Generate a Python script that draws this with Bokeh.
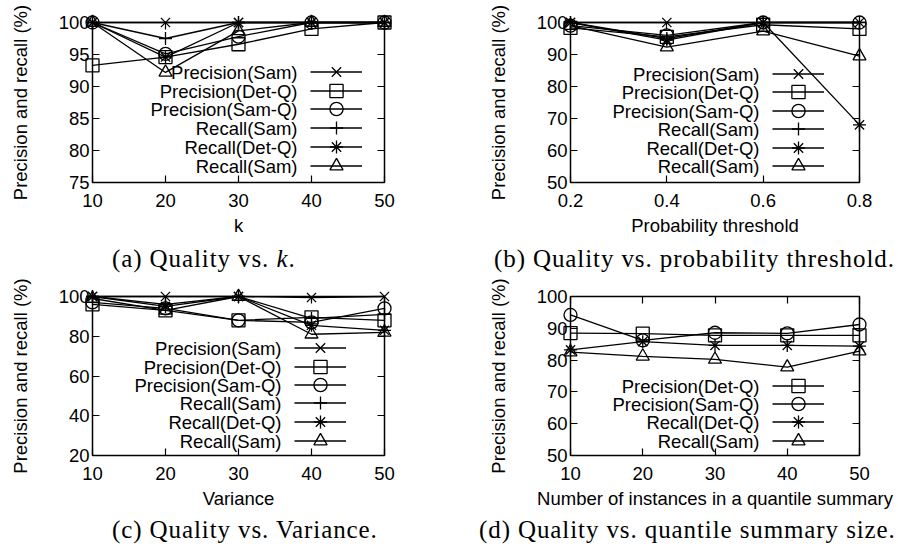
from bokeh.plotting import figure
from bokeh.models import (LinearAxis, FixedTicker, Legend, LegendItem, Label,
                          Range1d, CustomJSTickFormatter, Div)
from bokeh.layouts import column, row
from bokeh.core.properties import value
from bokeh.embed import file_html
from bokeh.resources import INLINE

# ---------------- data ----------------
# (a) Quality vs. k
a_x = [10, 20, 30, 40, 50]
a_prec_sam = [100, 100, 100, 100, 100]
a_prec_detq = [93.3, 94.6, 96.6, 99.0, 100]
a_prec_samq = [100, 95.1, 97.8, 100, 100]
a_rec_sam = [100, 97.5, 100, 100, 100]
a_rec_detq = [100, 94.6, 100, 100, 100]
a_rec_sam2 = [100, 92.2, 98.7, 100, 100]

# (b) Quality vs. probability threshold
b_x = [0.2, 0.4, 0.6, 0.8]
b_prec_sam = [100, 100, 100, 100]
b_prec_detq = [98.3, 95.5, 99.3, 98.0]
b_prec_samq = [99.0, 96.0, 100, 100]
b_rec_sam = [100, 95.0, 100, 100]
b_rec_detq = [100, 94.5, 100, 68.0]
b_rec_sam2 = [99.0, 92.3, 97.3, 89.5]

# (c) Quality vs. Variance
c_x = [10, 20, 30, 40, 50]
c_prec_sam = [100, 100, 100, 99.5, 100]
c_prec_detq = [96, 93, 88, 89.5, 88]
c_prec_samq = [97, 94, 88, 87, 94]
c_rec_sam = [100, 96, 100, 89, 91]
c_rec_detq = [100, 95, 100, 85.5, 83]
c_rec_sam2 = [99, 93, 100, 81, 82]

# (d) Quality vs. quantile summary size
d_x = [10, 20, 30, 40, 50]
d_prec_detq = [88.5, 88.3, 87.8, 87.8, 87.8]
d_prec_samq = [94.2, 86.2, 88.6, 88.4, 91.2]
d_rec_detq = [83.2, 85.8, 84.6, 84.6, 84.4]
d_rec_sam = [82.5, 81.2, 80.2, 77.8, 82.8]

names6 = ["Precision(Sam)", "Precision(Det-Q)", "Precision(Sam-Q)",
          "Recall(Sam)", "Recall(Det-Q)", "Recall(Sam)"]
markers6 = ["x", "square", "circle", "cross", "asterisk", "triangle"]
names4 = ["Precision(Det-Q)", "Precision(Sam-Q)", "Recall(Det-Q)", "Recall(Sam)"]
markers4 = ["square", "circle", "asterisk", "triangle"]

a_ticks_x = [10, 20, 30, 40, 50]
a_ticks_y = [75, 80, 85, 90, 95, 100]
b_ticks_x = [0.2, 0.4, 0.6, 0.8]
b_ticks_y = [50, 60, 70, 80, 90, 100]
c_ticks_x = [10, 20, 30, 40, 50]
c_ticks_y = [20, 40, 60, 80, 100]
d_ticks_x = [10, 20, 30, 40, 50]
d_ticks_y = [50, 60, 70, 80, 90, 100]

cap_a = "(a) Quality vs. <i>k</i>."
cap_b = "(b) Quality vs. probability threshold."
cap_c = "(c) Quality vs. Variance."
cap_d = "(d) Quality vs. quantile summary size."

SANS = "Liberation Sans"
SERIF = "Liberation Serif"
FS = "18.5px"
YLABEL = "Precision and recall (%)"


def style_axis(ax, labels=True, standoff=3):
    ax.major_tick_in = 7
    ax.major_tick_out = 0
    ax.minor_tick_line_color = None
    ax.axis_line_color = None
    ax.major_tick_line_color = "black"
    ax.major_tick_line_width = 1.2
    ax.major_label_text_font = SANS
    ax.major_label_text_font_size = FS
    ax.major_label_text_color = "black"
    ax.major_label_standoff = standoff
    ax.axis_label_text_font = SANS
    ax.axis_label_text_font_size = FS
    ax.axis_label_text_font_style = "normal"
    ax.axis_label_text_color = "black"
    if not labels:
        ax.formatter = CustomJSTickFormatter(code="return ''")


def panel(width, height, bl, bt, fw, fh, xr, yr, xticks, yticks, xlabel,
          xs, series, names, markers, leg_dx, leg_dy, pitch, text_dx):
    p = figure(width=width, height=height, output_backend="svg",
               toolbar_location=None,
               x_range=Range1d(*xr), y_range=Range1d(*yr),
               min_border_left=bl, min_border_top=bt,
               min_border_right=width - bl - fw,
               min_border_bottom=height - bt - fh,
               x_axis_label=xlabel, y_axis_label=YLABEL)
    p.grid.visible = False
    p.outline_line_color = "black"
    p.outline_line_width = 1.5
    p.background_fill_color = "white"
    p.border_fill_color = None
    p.xaxis.ticker = FixedTicker(ticks=xticks)
    p.yaxis.ticker = FixedTicker(ticks=yticks)
    for ax in p.xaxis:
        style_axis(ax, True, 11)
        ax.axis_label_standoff = 5
    for ax in p.yaxis:
        style_axis(ax, True, 3)
        ax.axis_label_standoff = 25
    top = LinearAxis(ticker=FixedTicker(ticks=xticks))
    style_axis(top, False, 0)
    p.add_layout(top, "above")
    right = LinearAxis(ticker=FixedTicker(ticks=yticks))
    style_axis(right, False, 0)
    p.add_layout(right, "right")

    gh = 33
    n = len(names)
    for i, (ys, m, nm) in enumerate(zip(series, markers, names)):
        rl = p.line(xs, ys, line_color="black", line_width=1.3, level="overlay")
        rs = p.scatter(xs, ys, marker=m, size=13, fill_color=None,
                       line_color="black", line_width=1.3, level="overlay")
        yc = leg_dy + (n - 1 - i) * pitch
        leg = Legend(items=[LegendItem(label=value(""), renderers=[rl, rs])],
                     location=(leg_dx, round(yc - gh / 2)), glyph_width=52,
                     glyph_height=gh, label_width=0, label_height=18,
                     label_standoff=0, padding=0, margin=0, spacing=0,
                     border_line_color=None, background_fill_alpha=0,
                     label_text_font_size="1px")
        p.add_layout(leg)
        p.add_layout(Label(x=leg_dx - text_dx, y=round(yc - gh / 2) + gh / 2,
                           x_units="screen", y_units="screen", text=nm,
                           text_align="right", text_baseline="middle",
                           text_font=SANS, text_font_size=FS,
                           text_color="black"))
    return p


def caption(text, width, height, left, top, lh):
    html = ('<div style="white-space:nowrap; margin:0; padding:0; '
            f'margin-left:{left}px; margin-top:{top}px; '
            f"font-family:'{SERIF}'; font-size:25px; letter-spacing:0.9px; "
            f'line-height:{lh}px; color:black;">{text}</div>')
    return Div(text=html, width=width, height=height, margin=0,
               styles={"overflow": "visible"})


pa = panel(484, 244, 92, 22, 292, 160, (10, 50), (75, 100), a_ticks_x, a_ticks_y, "k",
           a_x, [a_prec_sam, a_prec_detq, a_prec_samq, a_rec_sam, a_rec_detq, a_rec_sam2],
           names6, markers6, 218, 17, 18.7, 13)
pb = panel(414, 244, 84, 22, 291, 160, (0.2, 0.8), (50, 100), b_ticks_x, b_ticks_y,
           "Probability threshold",
           b_x, [b_prec_sam, b_prec_detq, b_prec_samq, b_rec_sam, b_rec_detq, b_rec_sam2],
           names6, markers6, 202, 16, 18.6, 13)
pc = panel(484, 250, 92, 28, 292, 159, (10, 50), (20, 100), c_ticks_x, c_ticks_y, "Variance",
           c_x, [c_prec_sam, c_prec_detq, c_prec_samq, c_rec_sam, c_rec_detq, c_rec_sam2],
           names6, markers6, 202, 15, 18.5, 13)
pd_ = panel(414, 250, 84, 28, 291, 159, (10, 50), (50, 100), d_ticks_x, d_ticks_y,
            "Number of instances in a quantile summary",
            d_x, [d_prec_detq, d_prec_samq, d_rec_detq, d_rec_sam],
            names4, markers4, 202, 15, 18.3, 13)

da = caption(cap_a, 484, 24, 112, 1, 27)
db = caption(cap_b, 414, 24, 10, 1, 27)
dc = caption(cap_c, 484, 28, 112, 0, 24)
dd = caption(cap_d, 414, 28, -5, 0, 24)

layout = column(row(pa, pb), row(da, db), row(pc, pd_), row(dc, dd))
open("out.html", "w").write(file_html(layout, INLINE))
